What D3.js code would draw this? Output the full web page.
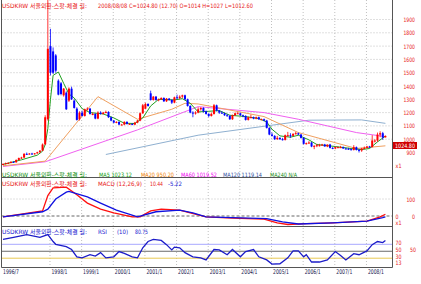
<!DOCTYPE html>
<html>
<head>
<meta charset="utf-8">
<script src="https://cdn.jsdelivr.net/npm/d3@7"></script>
<style>
  body { margin: 0; background: #fff; }
  svg { display: block; font-family: "DejaVu Sans", "Noto Sans CJK KR", sans-serif; }
</style>
</head>
<body>
<svg id="chart" width="421" height="284"></svg>
<script>
// monthly USD/KRW candles, 1996/7 .. 2008/8
const firstMonth = "1996-07", lastMonth = "2008-08";

const openP = [
  808, 814, 820, 822, 830, 826,
  844, 858, 862, 890, 888, 892, 888, 894, 902, 914, 962, 1150,
  1700, 1660, 1630, 1440, 1420, 1330, 1350, 1290, 1380, 1290, 1230, 1150,
  1200, 1175, 1225, 1230, 1190, 1190, 1155, 1200, 1190, 1200, 1205, 1165,
  1140, 1125, 1130, 1110, 1110, 1130, 1115, 1115, 1110, 1125, 1140, 1195,
  1230, 1265, 1345, 1295, 1320, 1295, 1300, 1310, 1285, 1305, 1295, 1275,
  1315, 1310, 1320, 1330, 1300, 1250, 1200, 1195, 1200, 1225, 1235, 1210,
  1190, 1175, 1190, 1255, 1215, 1200, 1195, 1180, 1175, 1150, 1180, 1195,
  1195, 1180, 1175, 1145, 1165, 1165, 1155, 1165, 1150, 1150, 1140, 1085,
  1035, 1025, 1000, 1010, 1000, 995, 1030, 1030, 1025, 1040, 1045, 1035,
  1010, 965, 970, 975, 945, 950, 955, 955, 960, 945, 960, 935,
  930, 940, 940, 940, 930, 928, 925, 920, 940, 920, 915, 930,
  935, 945, 940, 990, 990, 1035, 1045, 1014
];
const highP = [
  818, 824, 826, 834, 834, 848,
  862, 868, 895, 900, 896, 898, 896, 906, 918, 968, 1180, 2050,
  1830, 1690, 1640, 1450, 1430, 1385, 1360, 1390, 1395, 1300, 1240, 1210,
  1215, 1230, 1240, 1235, 1200, 1195, 1210, 1210, 1205, 1215, 1210, 1170,
  1145, 1135, 1135, 1115, 1135, 1135, 1120, 1120, 1130, 1145, 1200, 1265,
  1275, 1270, 1365, 1325, 1325, 1305, 1315, 1315, 1310, 1310, 1300, 1320,
  1335, 1330, 1335, 1335, 1305, 1255, 1210, 1210, 1240, 1240, 1240, 1215,
  1195, 1200, 1265, 1260, 1220, 1210, 1200, 1190, 1180, 1185, 1200, 1205,
  1200, 1185, 1180, 1170, 1185, 1170, 1170, 1170, 1155, 1155, 1145, 1090,
  1050, 1030, 1025, 1015, 1010, 1035, 1055, 1045, 1045, 1055, 1050, 1040,
  1015, 975, 985, 980, 955, 965, 965, 965, 965, 960, 965, 940,
  945, 945, 950, 945, 935, 935, 930, 955, 945, 925, 935, 945,
  950, 950, 1030, 1000, 1050, 1060, 1055, 1027
];
const lowP = [
  804, 810, 815, 818, 822, 824,
  840, 852, 858, 882, 884, 886, 884, 890, 898, 910, 955, 1140,
  1480, 1490, 1500, 1330, 1330, 1320, 1220, 1280, 1295, 1230, 1140, 1140,
  1170, 1170, 1215, 1185, 1180, 1150, 1150, 1185, 1185, 1195, 1160, 1135,
  1120, 1120, 1105, 1105, 1105, 1110, 1110, 1105, 1105, 1120, 1135, 1190,
  1225, 1245, 1290, 1290, 1290, 1285, 1295, 1280, 1280, 1290, 1265, 1270,
  1300, 1300, 1310, 1295, 1245, 1195, 1165, 1185, 1195, 1215, 1200, 1185,
  1165, 1170, 1185, 1210, 1190, 1190, 1175, 1170, 1145, 1145, 1175, 1190,
  1175, 1165, 1140, 1140, 1160, 1150, 1150, 1145, 1145, 1135, 1080, 1030,
  1020, 995, 995, 995, 990, 990, 1020, 1010, 1020, 1035, 1030, 1005,
  960, 960, 965, 940, 925, 940, 945, 950, 945, 940, 930, 925,
  925, 935, 935, 928, 925, 922, 915, 915, 915, 900, 905, 925,
  930, 935, 940, 975, 980, 1015, 995, 1012.6
];
const closeP = [
  814, 820, 822, 830, 826, 844,
  858, 862, 890, 888, 892, 888, 894, 902, 914, 960, 1165, 1680,
  1500, 1500, 1515, 1335, 1340, 1380, 1225, 1380, 1300, 1235, 1145, 1200,
  1175, 1225, 1230, 1190, 1190, 1155, 1200, 1190, 1200, 1205, 1165, 1140,
  1125, 1130, 1110, 1110, 1130, 1115, 1115, 1110, 1125, 1140, 1195, 1255,
  1265, 1250, 1295, 1320, 1295, 1300, 1310, 1285, 1305, 1295, 1275, 1315,
  1310, 1320, 1330, 1300, 1250, 1200, 1195, 1200, 1225, 1235, 1210, 1190,
  1175, 1190, 1255, 1215, 1200, 1195, 1180, 1175, 1150, 1180, 1195, 1195,
  1180, 1175, 1145, 1165, 1165, 1155, 1165, 1150, 1150, 1140, 1085, 1035,
  1025, 1000, 1010, 1000, 995, 1030, 1030, 1025, 1040, 1045, 1035, 1010,
  965, 970, 975, 945, 950, 955, 955, 960, 945, 960, 935, 930,
  940, 940, 940, 930, 928, 925, 920, 940, 920, 915, 930, 935,
  945, 940, 990, 990, 1035, 1045, 1012.1, 1024.8
];

// moving averages
const ma5 = [["1996-07",810],["1997-02",845],["1997-08",880],["1997-10",910],["1997-11",960],
  ["1997-12",1080],["1998-01",1300],["1998-02",1480],["1998-04",1505],["1998-06",1420],
  ["1998-08",1340],["1998-10",1310],["1999-01",1230],["1999-04",1200],["1999-09",1190],
  ["2000-01",1160],["2000-05",1120],["2000-09",1118],["2000-12",1160],["2001-03",1250],
  ["2001-06",1300],["2001-12",1295],["2002-03",1305],["2002-06",1270],["2002-09",1205],
  ["2003-01",1210],["2003-05",1215],["2003-09",1180],["2004-03",1170],["2004-08",1155],
  ["2004-11",1130],["2005-01",1075],["2005-04",1025],["2005-08",1015],["2005-11",1030],
  ["2006-03",995],["2006-06",960],["2007-01",945],["2007-07",930],["2007-11",922],
  ["2008-02",930],["2008-05",980],["2008-08",1023.12]];
const ma20 = [["1996-07",800],["1997-11",835],["1999-07",1320],["2000-10",1150],["2001-11",1225],
  ["2002-04",1270],["2002-09",1265],["2004-10",1170],["2005-11",1050],["2007-09",930],["2008-08",950.2]];
const ma60 = [["1996-07",795],["1997-11",830],["2000-10",1070],["2002-09",1245],["2004-10",1200],
  ["2005-11",1150],["2007-09",1050],["2008-08",1019.52]];
const ma120 = [["1999-10",885],["2002-09",1030],["2006-03",1143],["2007-11",1145],["2008-08",1119.14]];

// MACD (12,26,9)
const macdLine = [["1996-07",-5],["1997-10",30],["1997-12",120],["1998-02",165],["1998-07",170],
  ["1998-11",125],["1999-03",76],["1999-08",40],["2000-01",18],["2000-08",-5],["2000-11",-5],
  ["2001-03",30],["2001-07",40],["2002-02",35],["2002-06",18],["2002-12",-5],["2003-10",-12],
  ["2004-10",-18],["2005-03",-40],["2005-07",-50],["2006-02",-45],["2006-12",-40],["2008-01",-30],
  ["2008-06",-5],["2008-08",10.44]];
const macdSignal = [["1996-07",-5],["1997-10",25],["1997-12",40],["1998-03",100],["1998-07",140],
  ["1998-08",145],["1999-03",112],["1999-08",76],["2000-02",35],["2000-10",-5],["2001-05",25],
  ["2002-02",35],["2002-07",18],["2002-12",-5],["2004-11",-15],["2005-05",-35],["2005-11",-47],
  ["2006-12",-40],["2008-01",-30],["2008-07",-10],["2008-08",-5.22]];

// RSI (10)
const rsiLine = [["1996-07",84],["1996-11",90],["1997-04",98],["1997-09",90],["1997-12",98],
  ["1998-02",78],["1998-03",70],["1998-07",63],["1998-09",55],["1998-11",34],["1999-01",31],
  ["1999-04",40],["1999-06",36],["1999-08",46],["1999-10",31],["2000-01",34],["2000-03",49],
  ["2000-05",44],["2000-08",34],["2000-10",31],["2000-12",60],["2001-02",78],["2001-04",84],
  ["2001-07",81],["2001-09",69],["2001-11",54],["2001-12",62],["2002-02",60],["2002-04",46],
  ["2002-07",34],["2002-10",31],["2002-12",25],["2003-03",55],["2003-05",54],["2003-08",40],
  ["2003-10",55],["2004-01",34],["2004-03",49],["2004-06",55],["2004-08",34],["2004-11",25],
  ["2005-01",13],["2005-04",14],["2005-07",31],["2005-09",51],["2005-11",51],["2006-01",34],
  ["2006-02",40],["2006-04",19],["2006-07",19],["2006-10",25],["2007-01",49],["2007-03",38],
  ["2007-05",25],["2007-08",43],["2007-10",40],["2008-01",51],["2008-03",69],["2008-05",78],
  ["2008-07",75],["2008-08",80.75]];

const priceTicks = [1900, 1800, 1700, 1600, 1500, 1400, 1300, 1200, 1100, 1000, 900];
const rsiTicks = [70, 50, 30, 13];
const yearTicks = ["1996-07","1998-01","1999-01","2000-01","2001-01","2002-01","2003-01",
  "2004-01","2005-01","2006-01","2007-01","2008-01"];
const yearLabels = ["1996/7","1998/1","1999/1","2000/1","2001/1","2002/1","2003/1",
  "2004/1","2005/1","2006/1","2007/1","2008/1"];

const RED = "#e81818", BLUE = "#1818d0", GREEN = "#109010";

const svg = d3.select("#chart");
const left = 1.5, right = 392.5;
const pBot = 177.5, mBot = 226.5, rBot = 267.5;

const fmtM = d3.timeFormat("%Y-%m"), parseM = d3.timeParse("%Y-%m");
const months = d3.timeMonth.range(parseM(firstMonth), d3.timeMonth.offset(parseM(lastMonth), 1)).map(fmtM);
const candles = months.map((m, i) => ({m, o: openP[i], h: highP[i], l: lowP[i], c: closeP[i]}));

const x = d3.scalePoint().domain(months).range([3, 385.4]);
const yP = d3.scaleLinear().domain([900, 1900]).range([152.5, 19.5]);
const yM = d3.scaleLinear().domain([0, 100]).range([216, 199]);
const yR = d3.scaleLinear().domain([30, 70]).range([258.2, 244.3]);

svg.append("rect").attr("width", 421).attr("height", 284).attr("fill", "#fff");

// grid
const grid = svg.append("g").attr("stroke", "#c0c0c0").attr("stroke-dasharray", "1,2");
grid.selectAll("line.h").data(priceTicks.filter(v => v >= 1000)).join("line")
  .attr("x1", left).attr("x2", right).attr("y1", d => yP(d)).attr("y2", d => yP(d));
grid.selectAll("line.v").data(yearTicks.slice(1)).join("line")
  .attr("x1", d => x(d) - 0.5).attr("x2", d => x(d) - 0.5).attr("y1", 0).attr("y2", rBot);
grid.append("line").attr("x1", left).attr("x2", right).attr("y1", yM(100)).attr("y2", yM(100));

svg.append("line").attr("x1", left).attr("x2", right).attr("y1", yM(0)).attr("y2", yM(0))
  .attr("stroke", "#666").attr("stroke-dasharray", "3,2");

svg.selectAll("line.rsiref").data([[70, "#a8a8ff"], [50, "#6a6a6a"], [30, "#e8c850"]]).join("line")
  .attr("x1", left).attr("x2", right).attr("y1", d => yR(d[0])).attr("y2", d => yR(d[0]))
  .attr("stroke", d => d[1]);

// price panel
svg.append("clipPath").attr("id", "pclip").append("rect")
  .attr("x", left).attr("y", 0).attr("width", right - left).attr("height", pBot);
const pg = svg.append("g").attr("clip-path", "url(#pclip)");

const lineP = d3.line().x(d => x(d[0])).y(d => yP(d[1]));
pg.selectAll("path.ma").data([[ma120, "#8fb0d0"], [ma60, "#f060f0"], [ma20, "#f0a060"], [ma5, "#20a020"]])
  .join("path").attr("fill", "none").attr("stroke", d => d[1]).attr("stroke-width", 1)
  .attr("d", d => lineP(d[0]));

const cg = pg.selectAll("g.candle").data(candles).join("g")
  .attr("fill", d => d.c >= d.o ? "#ff0000" : "#0000ff")
  .attr("stroke", d => d.c >= d.o ? "#ff0000" : "#0000ff");
cg.append("line").attr("x1", d => x(d.m)).attr("x2", d => x(d.m))
  .attr("y1", d => yP(d.h)).attr("y2", d => yP(d.l)).attr("stroke-width", 0.8);
cg.append("rect").attr("stroke", "none")
  .attr("x", d => x(d.m) - 1).attr("width", 2)
  .attr("y", d => yP(Math.max(d.o, d.c)))
  .attr("height", d => Math.max(1, Math.abs(yP(d.o) - yP(d.c))));

// MACD panel
const lineM = d3.line().x(d => x(d[0])).y(d => yM(d[1]));
svg.selectAll("path.macd").data([[macdLine, "#ff1010"], [macdSignal, "#1010e0"]]).join("path")
  .attr("fill", "none").attr("stroke", d => d[1]).attr("stroke-width", 1.3)
  .attr("d", d => lineM(d[0]));

// RSI panel
const lineR = d3.line().x(d => x(d[0])).y(d => yR(d[1]));
svg.append("path").datum(rsiLine).attr("fill", "none").attr("stroke", "#1c1cc8")
  .attr("stroke-width", 1.3).attr("d", lineR);

// frame
const frame = svg.append("g").attr("stroke", "#555").attr("stroke-width", 1);
[pBot, mBot, rBot].forEach(y => frame.append("line").attr("x1", left).attr("x2", right).attr("y1", y).attr("y2", y));
frame.append("line").attr("x1", left).attr("x2", left).attr("y1", 0).attr("y2", rBot);
frame.append("line").attr("x1", right).attr("x2", right).attr("y1", 0).attr("y2", rBot);

// text helper: fixed width segments
function seg(str, tx, ty, w, color, anchor) {
  const t = svg.append("text").attr("x", tx).attr("y", ty).attr("fill", color)
    .attr("font-size", 6).attr("dominant-baseline", "central")
    .attr("text-anchor", anchor || "start").text(str);
  if (w) t.attr("textLength", w).attr("lengthAdjust", "spacingAndGlyphs");
  return t;
}
function prefix(ty, color) {
  seg("USDKRW  서울외환-스팟-체결 월:", 2, ty, 85, color);
}

prefix(5.5, RED);
seg("2008/08/08  C=1024.80  (12.70)  O=1014  H=1027  L=1012.60", 98, 5.5, 155, RED);

prefix(174, GREEN);
seg("MA5 1023.12", 99, 174, 33, "#10a010");
seg("MA20 950.20", 141, 174, 33, "#f08000");
seg("MA60 1019.52", 181, 174, 36, "#f000f0");
seg("MA120 1119.14", 223, 174, 39, "#3050a0");
seg("MA240 N/A", 270, 174, 27, "#209020");

prefix(183, RED);
seg("MACD (12,26,9)", 98, 183, 44, RED);
seg("10.44", 150, 183, 13, RED);
seg("-5.22", 168, 183, 14, BLUE);

prefix(231, BLUE);
seg("RSI", 98, 231, 9, BLUE);
seg("(10)", 117, 231, 11, BLUE);
seg("80.75", 135, 231, 13, BLUE);

// right axis labels
svg.selectAll("text.pt").data(priceTicks).join("text")
  .attr("x", 415).attr("y", d => yP(d)).attr("text-anchor", "end")
  .attr("dominant-baseline", "central").attr("font-size", 6).attr("fill", RED)
  .attr("textLength", d => d >= 1000 ? 11.5 : 8.6).attr("lengthAdjust", "spacingAndGlyphs")
  .text(d => d);
seg("x1", 395.5, 165, 6, RED);

svg.append("rect").attr("x", 393).attr("y", 142).attr("width", 24).attr("height", 7).attr("fill", "#d00000");
seg("1024.80", 405, 145.5, 20, "#fff", "middle");

seg("100", 415, yM(100), 8.6, RED, "end");
seg("0", 395.5, yM(0), 3, RED);
seg("0", 415, yM(0), 3, RED, "end");
seg("x1", 395.5, 222, 6, RED);

svg.selectAll("text.rt").data(rsiTicks).join("text")
  .attr("x", 395.5).attr("y", d => yR(Math.max(d, 13)) - 1.5)
  .attr("dominant-baseline", "central").attr("font-size", 6).attr("fill", RED)
  .attr("textLength", 6).attr("lengthAdjust", "spacingAndGlyphs").text(d => d);
seg("50", 416, yR(50) - 1.5, 6, RED, "end");

// time axis
svg.selectAll("text.xt").data(yearTicks).join("text")
  .attr("x", (d, i) => i === 0 ? 3 : x(d) + 1).attr("y", 272)
  .attr("dominant-baseline", "central").attr("font-size", 6.5).attr("fill", "#202050")
  .attr("textLength", 16).attr("lengthAdjust", "spacingAndGlyphs")
  .text((d, i) => yearLabels[i]);
</script>
</body>
</html>
